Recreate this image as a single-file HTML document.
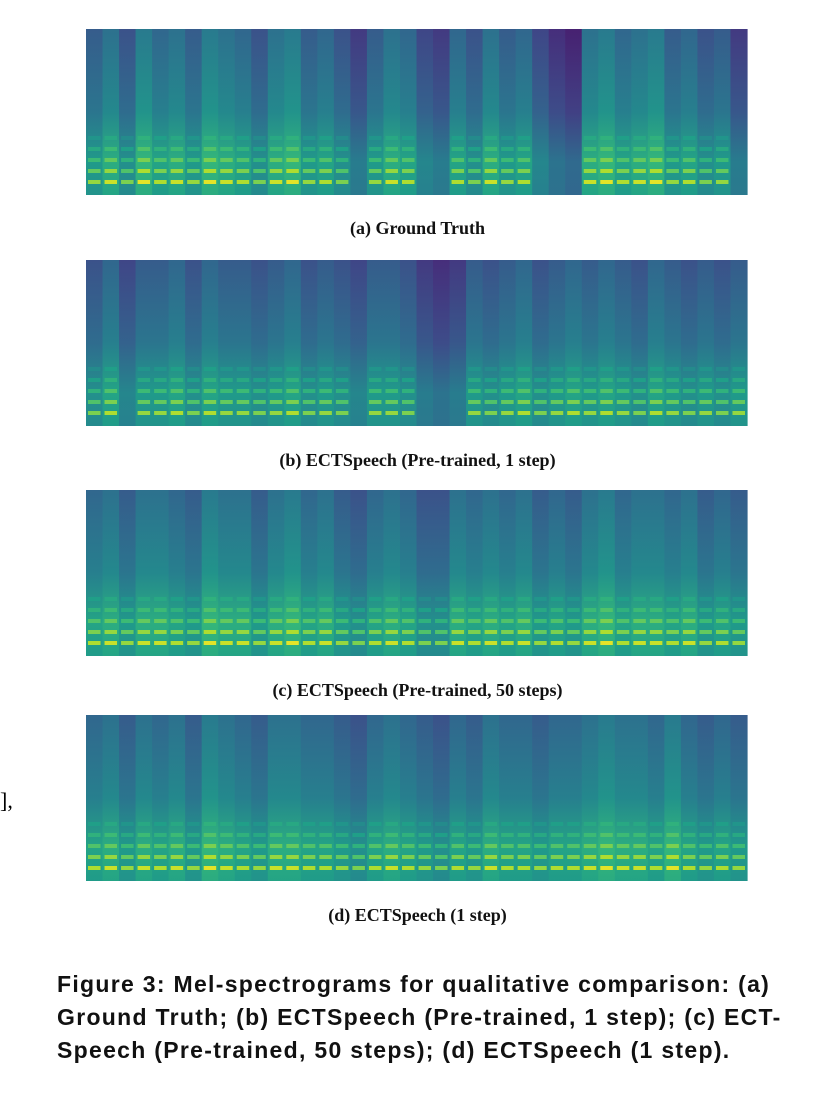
<!DOCTYPE html>
<html><head><meta charset="utf-8">
<style>
body{margin:0;background:#fff;width:835px;height:1097px;overflow:hidden;position:relative;font-family:"Liberation Serif",serif;}
.cap{position:absolute;left:0;width:835px;text-align:center;font-weight:bold;font-size:18px;color:#111;}
#figcap{position:absolute;left:57px;top:968px;white-space:nowrap;font-family:"Liberation Sans",sans-serif;font-weight:bold;font-size:23px;letter-spacing:1.3px;line-height:33px;color:#111;}
#bracket{position:absolute;left:0;top:788px;font-size:22px;}
</style></head><body>
<svg id="spec" width="835" height="960" style="position:absolute;left:0;top:0"></svg>
<div class="cap" style="top:218px">(a) Ground Truth</div>
<div class="cap" style="top:450px">(b) ECTSpeech (Pre-trained, 1 step)</div>
<div class="cap" style="top:680px">(c) ECTSpeech (Pre-trained, 50 steps)</div>
<div class="cap" style="top:905px">(d) ECTSpeech (1 step)</div>
<div id="bracket">],</div>
<div id="figcap">Figure 3: Mel-spectrograms for qualitative comparison: (a)<br>Ground Truth; (b) ECTSpeech (Pre-trained, 1 step); (c) ECT-<br>Speech (Pre-trained, 50 steps); (d) ECTSpeech (1 step).</div>
<script>
const panelNames=['ground-truth','pretrained-1-step','pretrained-50-steps','ectspeech-1-step'];
const energyA=[0.6,0.8,0.5,0.9,0.7,0.8,0.6,0.9,0.8,0.7,0.5,0.8,0.9,0.6,0.7,0.5,0.3,0.6,0.8,0.7,0.4,0.3,0.7,0.5,0.8,0.6,0.7,0.4,0.2,0.1,0.8,0.9,0.7,0.8,0.9,0.6,0.7,0.5,0.6,0.3];
const energyB=[0.5,0.7,0.4,0.6,0.6,0.7,0.5,0.7,0.6,0.6,0.5,0.6,0.7,0.5,0.6,0.5,0.4,0.6,0.6,0.5,0.3,0.2,0.3,0.6,0.5,0.6,0.7,0.5,0.6,0.7,0.6,0.7,0.6,0.5,0.7,0.6,0.5,0.6,0.5,0.6];
const energyC=[0.7,0.8,0.6,0.8,0.8,0.7,0.6,0.9,0.8,0.8,0.6,0.8,0.9,0.7,0.8,0.6,0.5,0.7,0.8,0.7,0.5,0.5,0.8,0.7,0.8,0.7,0.8,0.6,0.7,0.6,0.8,0.9,0.7,0.8,0.8,0.7,0.8,0.6,0.7,0.6];
const energyD=[0.7,0.8,0.6,0.8,0.7,0.8,0.6,0.9,0.8,0.7,0.6,0.8,0.8,0.7,0.7,0.6,0.5,0.7,0.8,0.7,0.6,0.5,0.7,0.6,0.8,0.7,0.7,0.6,0.7,0.7,0.8,0.9,0.8,0.8,0.7,0.9,0.7,0.6,0.7,0.6];
const energies=[energyA,energyB,energyC,energyD];
const panelTops=[29,260,490,715];
const X0=86,W=661,H=166;
const vir=[[68,1,84],[72,40,120],[62,74,137],[49,104,142],[38,130,142],[31,158,137],[53,183,121],[109,205,89],[180,222,44],[253,231,37]];
function viridis(t){t=Math.max(0,Math.min(1,t))*9;const i=Math.min(8,Math.floor(t)),f=t-i;const a=vir[i],b=vir[i+1];
return 'rgb('+a.map((v,k)=>Math.round(v+(b[k]-v)*f)).join(',')+')';}
const svg=document.getElementById('spec');const NS='http://www.w3.org/2000/svg';
const defs=document.createElementNS(NS,'defs');svg.appendChild(defs);
energies.forEach((arr,p)=>{
  const g=document.createElementNS(NS,'g');
  
  
  svg.appendChild(g);
  const cw=W/arr.length;
  arr.forEach((e,i)=>{
    const id='g'+p+'_'+i;
    const lg=document.createElementNS(NS,'linearGradient');lg.setAttribute('id',id);
    lg.setAttribute('x1','0');lg.setAttribute('y1','0');lg.setAttribute('x2','0');lg.setAttribute('y2','1');
    [[0,0.05+e*0.4],[0.5,0.15+e*0.4],[0.8,0.3+e*0.4],[1,0.3+e*0.35]].forEach(s=>{
      const st=document.createElementNS(NS,'stop');st.setAttribute('offset',s[0]);st.setAttribute('stop-color',viridis(s[1]));lg.appendChild(st);});
    defs.appendChild(lg);
    const r=document.createElementNS(NS,'rect');
    
    
    r.setAttribute('x',X0+i*cw);r.setAttribute('y',panelTops[p]);r.setAttribute('width',cw+0.6);r.setAttribute('height',H);
    r.setAttribute('fill','url(#'+id+')');g.appendChild(r);
    if(e>=0.5){for(let h=0;h<5;h++){
      const hl=document.createElementNS(NS,'rect');
      
      
      hl.setAttribute('x',X0+i*cw+2);hl.setAttribute('y',panelTops[p]+H-15-h*11);
      hl.setAttribute('width',cw-4);hl.setAttribute('height',4);
      hl.setAttribute('fill',viridis(0.6+e*0.4-h*0.08));g.appendChild(hl);}}
  });
});
</script>
</body></html>
